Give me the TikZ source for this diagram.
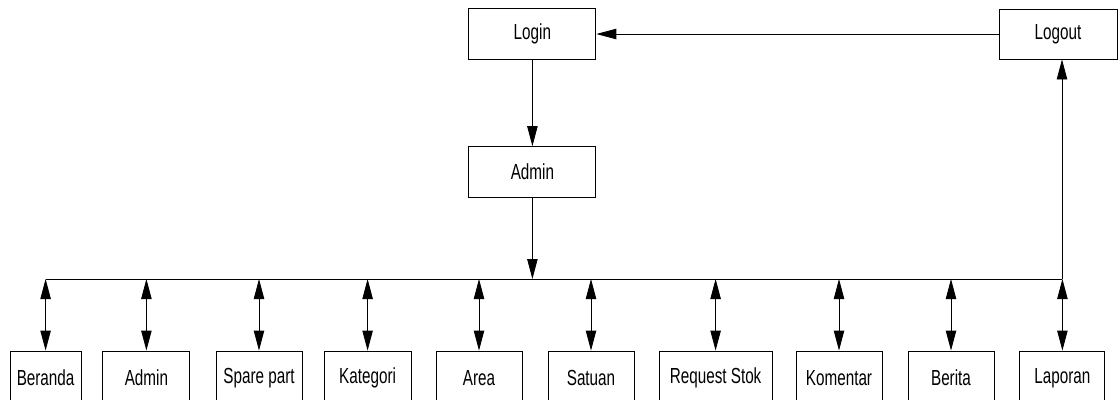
\documentclass[tikz,border=0pt]{standalone}
\usepackage{fontspec}
\setmainfont[FakeStretch=0.7]{Liberation Sans}
\usetikzlibrary{arrows.meta, positioning}

\begin{document}
\begin{tikzpicture}[line width=0.6pt, >={Triangle[length=5mm, width=2.6mm]},
    menu/.style={rectangle, draw, fill=white, minimum height=1.35cm,
                 inner sep=1pt, font=\fontsize{15.5}{17}\selectfont},
    top/.style={rectangle, draw, fill=white, minimum width=3.175cm,
                minimum height=1.27cm, font=\fontsize{15.5}{17}\selectfont}]
    \useasboundingbox (0,0) rectangle (27.95,-9.975);
    \clip (0,0) rectangle (27.95,-9.975);

    % Top
    \node[top] (login) at (13.31, -0.85) {Login};
    \node[top, minimum width=2.95cm, minimum height=1.25cm] (logout) at (26.45, -0.85) {Logout};
    \node[top] (admin) at (13.31, -4.3) {Admin};

    % Bus
    \coordinate (busL) at (1.15, -6.975);
    \coordinate (busR) at (26.55, -6.975);
    \draw (busL) -- (busR);

    % Menus
    \node[menu, minimum width=1.775cm] (m1) at (1.14, -9.45) {Beranda};
    \node[menu, minimum width=2.175cm] (m2) at (3.66, -9.45) {Admin};
    \node[menu, minimum width=2.15cm] (m3) at (6.475, -9.45) {Spare part};
    \node[menu, minimum width=2.175cm] (m4) at (9.19, -9.45) {Kategori};
    \node[menu, minimum width=2.15cm] (m5) at (11.975, -9.45) {Area};
    \node[menu, minimum width=2.15cm] (m6) at (14.775, -9.45) {Satuan};
    \node[menu, minimum width=2.825cm] (m7) at (17.89, -9.45) {Request Stok};
    \node[menu, minimum width=2.15cm] (m8) at (20.975, -9.45) {Komentar};
    \node[menu, minimum width=2.15cm] (m9) at (23.775, -9.45) {Berita};
    \node[menu, minimum width=2.125cm] (m10) at (26.56, -9.45) {Laporan};

    % Arrows
    \draw[->] (login) -- (admin);
    \draw[->] (admin) -- (admin.south |- busL);
    \draw[->] (busR) -- (busR |- logout.south);
    \draw[->] (logout) -- (login);

    \draw[<->] (m1.north |- busL) -- (m1.north);
    \draw[<->] (m2.north |- busL) -- (m2.north);
    \draw[<->] (m3.north |- busL) -- (m3.north);
    \draw[<->] (m4.north |- busL) -- (m4.north);
    \draw[<->] (m5.north |- busL) -- (m5.north);
    \draw[<->] (m6.north |- busL) -- (m6.north);
    \draw[<->] (m7.north |- busL) -- (m7.north);
    \draw[<->] (m8.north |- busL) -- (m8.north);
    \draw[<->] (m9.north |- busL) -- (m9.north);
    \draw[<->] (m10.north |- busL) -- (m10.north);
\end{tikzpicture}
\end{document}
